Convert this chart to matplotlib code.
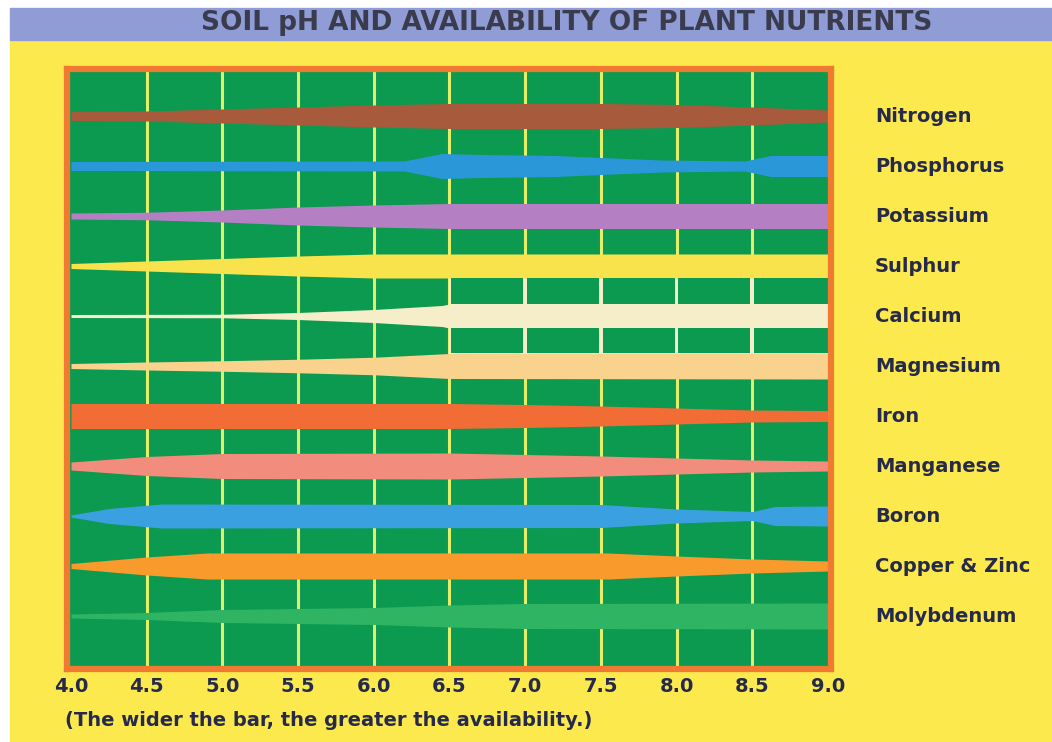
import numpy as np
import matplotlib.pyplot as plt
from matplotlib.patches import Rectangle

W, H = 1052, 742

nutrients = ["Nitrogen", "Phosphorus", "Potassium", "Sulphur", "Calcium",
             "Magnesium", "Iron", "Manganese", "Boron", "Copper & Zinc",
             "Molybdenum"]
ph_ticks = [4.0, 4.5, 5.0, 5.5, 6.0, 6.5, 7.0, 7.5, 8.0, 8.5, 9.0]
tick_labels = ["4.0", "4.5", "5.0", "5.5", "6.0", "6.5", "7.0", "7.5", "8.0", "8.5", "9.0"]

# band thickness (in row heights) at given pH values
nitrogen_ph = [4.0, 4.5, 5.0, 5.5, 6.0, 6.5, 7.5, 8.0, 8.5, 9.0]
nitrogen_w = [0.18, 0.20, 0.28, 0.36, 0.44, 0.50, 0.50, 0.46, 0.36, 0.24]

phosphorus_ph = [4.0, 6.2, 6.45, 6.7, 7.2, 7.5, 7.9, 8.45, 8.62, 9.0]
phosphorus_w = [0.18, 0.20, 0.50, 0.46, 0.42, 0.34, 0.24, 0.20, 0.42, 0.42]

potassium_ph = [4.0, 4.5, 5.0, 5.5, 6.0, 6.5, 9.0]
potassium_w = [0.12, 0.15, 0.24, 0.36, 0.44, 0.50, 0.50]

sulphur_ph = [4.0, 4.5, 5.0, 5.5, 6.0, 9.0]
sulphur_w = [0.10, 0.20, 0.30, 0.40, 0.48, 0.48]

calcium_ph = [4.0, 5.0, 5.5, 6.0, 6.45, 6.5, 9.0]
calcium_w = [0.06, 0.07, 0.14, 0.26, 0.42, 0.48, 0.48]

magnesium_ph = [4.0, 4.5, 5.0, 5.5, 6.0, 6.5, 9.0]
magnesium_w = [0.10, 0.16, 0.21, 0.27, 0.35, 0.50, 0.52]

iron_ph = [4.0, 6.5, 7.0, 7.5, 8.0, 8.5, 9.0]
iron_w = [0.50, 0.50, 0.46, 0.40, 0.32, 0.24, 0.22]

manganese_ph = [4.0, 4.5, 5.0, 6.5, 7.0, 7.5, 8.0, 8.5, 9.0]
manganese_w = [0.16, 0.38, 0.50, 0.52, 0.46, 0.40, 0.32, 0.24, 0.20]

boron_ph = [4.0, 4.25, 4.6, 7.5, 8.0, 8.5, 8.65, 9.0]
boron_w = [0.04, 0.30, 0.48, 0.46, 0.28, 0.18, 0.38, 0.40]

copper_ph = [4.0, 4.5, 4.9, 7.55, 8.0, 8.5, 9.0]
copper_w = [0.10, 0.36, 0.52, 0.52, 0.40, 0.28, 0.20]

molybdenum_ph = [4.0, 4.5, 5.0, 6.0, 6.5, 7.0, 9.0]
molybdenum_w = [0.08, 0.14, 0.26, 0.34, 0.44, 0.50, 0.52]

band_ph = [nitrogen_ph, phosphorus_ph, potassium_ph, sulphur_ph, calcium_ph,
           magnesium_ph, iron_ph, manganese_ph, boron_ph, copper_ph, molybdenum_ph]
band_w = [nitrogen_w, phosphorus_w, potassium_w, sulphur_w, calcium_w,
          magnesium_w, iron_w, manganese_w, boron_w, copper_w, molybdenum_w]
band_colors = ["#a85a3c", "#2a98d8", "#b57fc4", "#f8e34c", "#f6edc9",
               "#f9d28e", "#f26c36", "#f28c7c", "#3aa0e0", "#f89b2c", "#2fb464"]

green = "#0b9a50"
yellow = "#fce94e"
orange = "#f07a32"
grid_col = "#e3ef6b"
navy = "#262a4a"
cream = "#f6edc9"

fig = plt.figure(figsize=(W / 100, H / 100), dpi=100)
fig.patch.set_facecolor("white")
fig.patches.append(Rectangle((10 / W, 0), 1, (H - 40) / H, transform=fig.transFigure,
                             color=yellow, zorder=-10))
fig.patches.append(Rectangle((10 / W, (H - 40) / H), 1, 32 / H, transform=fig.transFigure,
                             color="#909cd6", zorder=-10))
fig.text(567 / W, 1 - 23 / H, "SOIL pH AND AVAILABILITY OF PLANT NUTRIENTS",
         ha="center", va="center", fontsize=19, fontweight="bold", color="#3b3b4e")

ax = fig.add_axes([67 / W, 1 - 669 / H, 764 / W, 600 / H])
ax.set_facecolor(green)
ax.set_xlim(3.9736, 9.0198)
ax.set_ylim(11.06, -0.94)

for x in ph_ticks[1:-1]:
    ax.axvline(x, color=grid_col, lw=2.2, zorder=1)

# cream area behind the calcium block with green patches cut between gridlines
ax.add_patch(Rectangle((6.5, 3), 2.6, 2, color=cream, lw=0, zorder=2))

for i in range(len(nutrients)):
    ph = np.array(band_ph[i])
    w = np.array(band_w[i])
    ax.fill_between(ph, i - w / 2, i + w / 2, color=band_colors[i], lw=0, zorder=3)

gap = 0.012
rows = [(3 + sulphur_w[-1] / 2, 4 - calcium_w[-1] / 2),
        (4 + calcium_w[-1] / 2, 5 - magnesium_w[-1] / 2)]
block_edges = ph_ticks[5:]
for y0, y1 in rows:
    for a, b in zip(block_edges[:-1], block_edges[1:]):
        right = b - gap if b < 9.0 else 9.05
        ax.add_patch(Rectangle((a + gap, y0), right - a - gap, y1 - y0,
                               color=green, lw=0, zorder=4))

for s in ax.spines.values():
    s.set_color(orange)
    s.set_linewidth(4.5)
    s.set_zorder(10)

ax.set_yticks([])
ax.set_xticks(ph_ticks, tick_labels, fontsize=14, fontweight="bold", color=navy)
ax.tick_params(axis="x", length=0, pad=6)

for i, name in enumerate(nutrients):
    ax.text(1.0576, i, name, transform=ax.get_yaxis_transform(), ha="left", va="center",
            fontsize=14, fontweight="bold", color=navy)

fig.text(65 / W, 1 - 720 / H, "(The wider the bar, the greater the availability.)",
         ha="left", va="center", fontsize=14, fontweight="bold", color=navy)

fig.savefig("out.png", dpi=100, facecolor=fig.get_facecolor())
